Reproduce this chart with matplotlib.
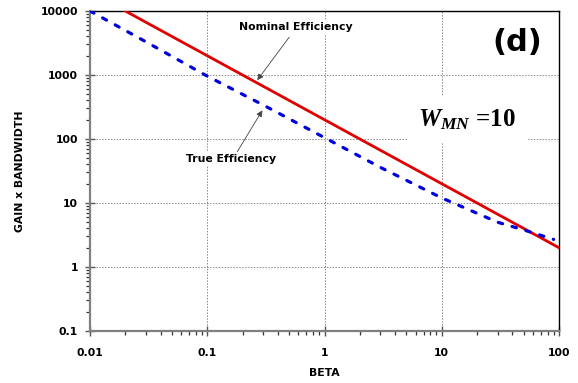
import matplotlib
matplotlib.use("Agg")
import matplotlib.pyplot as plt
from matplotlib.ticker import LogLocator, NullFormatter, FixedLocator, FixedFormatter

plt.rcParams["font.family"] = ["DejaVu Sans"]
plt.rcParams["mathtext.fontset"] = "custom"
plt.rcParams["mathtext.it"] = "Liberation Serif:bold:italic"
plt.rcParams["mathtext.rm"] = "Liberation Serif:bold"

# nominal efficiency: GB = 200 / beta
beta_nominal = [0.02, 0.1, 1, 10, 100]
gb_nominal = [10000, 2000, 200, 20, 2]

# true efficiency
beta_true = [0.01, 0.03, 0.1, 0.3, 1, 3, 10, 30, 50, 90]
gb_true = [10000, 3300, 960, 340, 105, 36, 12, 5.0, 3.8, 2.7]

x_ticks = [0.01, 0.1, 1, 10, 100]
x_labels = ["0.01", "0.1", "1", "10", "100"]
y_ticks = [0.1, 1, 10, 100, 1000, 10000]
y_labels = ["0.1", "1", "10", "100", "1000", "10000"]

fig = plt.figure(figsize=(5.78, 3.83), dpi=100)
ax = fig.add_axes([90 / 578, 52 / 383, 469 / 578, 320 / 383])

ax.plot(beta_nominal, gb_nominal, color="#e00000", lw=2.0, zorder=3)
ax.plot(beta_true, gb_true, color="#0000dd", lw=2.3, ls=(0, (1.4, 3.1)),
        dash_capstyle="round", zorder=3)

ax.set_xscale("log")
ax.set_yscale("log")
ax.set_xlim(0.01, 100)
ax.set_ylim(0.1, 10000)

ax.xaxis.set_major_locator(FixedLocator(x_ticks))
ax.xaxis.set_major_formatter(FixedFormatter(x_labels))
ax.yaxis.set_major_locator(FixedLocator(y_ticks))
ax.yaxis.set_major_formatter(FixedFormatter(y_labels))
ax.xaxis.set_minor_locator(LogLocator(base=10, subs=range(2, 10), numticks=20))
ax.yaxis.set_minor_locator(LogLocator(base=10, subs=range(2, 10), numticks=20))
ax.xaxis.set_minor_formatter(NullFormatter())
ax.yaxis.set_minor_formatter(NullFormatter())

ax.tick_params(which="major", direction="inout", length=7, width=1.0, color="#555555",
               labelsize=7.8, top=False, right=False)
ax.tick_params(axis="x", which="major", pad=9)
ax.tick_params(axis="y", which="major", pad=5)
ax.tick_params(which="minor", direction="out", length=3, width=0.9, color="#333333",
               top=False, right=False)
for lab in ax.get_xticklabels() + ax.get_yticklabels():
    lab.set_fontweight("bold")

for side in ("left", "bottom"):
    ax.spines[side].set_color("#808080")
    ax.spines[side].set_linewidth(1.6)
for side in ("top", "right"):
    ax.spines[side].set_color("black")
    ax.spines[side].set_linewidth(1.0)

ax.grid(which="major", ls=(0, (1.5, 1.5)), color="#888888", lw=0.7, zorder=0)

ax.set_xlabel("BETA", fontsize=7.8, fontweight="bold", labelpad=7)
ax.set_ylabel("GAIN x BANDWIDTH", fontsize=7.8, fontweight="bold", labelpad=11)

arrow = dict(arrowstyle="-|>", color="#444444", lw=0.6, mutation_scale=9,
             shrinkA=0, shrinkB=0)
box = dict(facecolor="white", edgecolor="none", pad=1.5)
ax.annotate("", xy=(0.267, 830), xytext=(0.5, 3900), arrowprops=arrow, zorder=4)
ax.text(0.57, 5600, "Nominal Efficiency", fontsize=7.8, fontweight="bold",
        ha="center", va="center", bbox=box, zorder=5)
ax.annotate("", xy=(0.295, 280), xytext=(0.18, 63), arrowprops=arrow, zorder=4)
ax.text(0.16, 49, "True Efficiency", fontsize=7.8, fontweight="bold",
        ha="center", va="center", bbox=box, zorder=5)

ax.text(0.91, 0.902, "(d)", transform=ax.transAxes, fontsize=22, fontweight="bold",
        ha="center", va="center")
ax.text(0.804, 0.66, r"$W_{MN}$ =10", transform=ax.transAxes, fontsize=18,
        family="Liberation Serif", fontweight="bold", ha="center", va="center",
        bbox=dict(facecolor="white", edgecolor="none", pad=8), zorder=5)

fig.savefig("out.png", dpi=100)
